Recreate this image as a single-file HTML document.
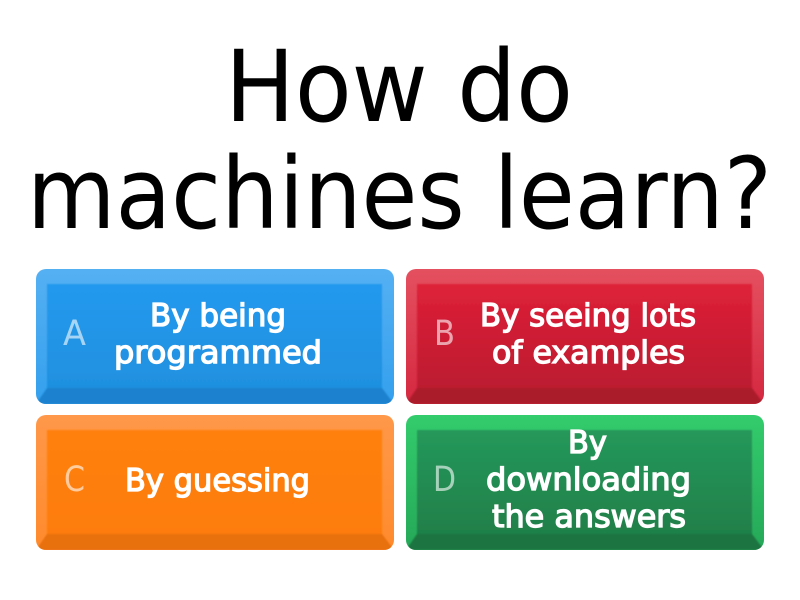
<!DOCTYPE html>
<html><head><meta charset="utf-8"><style>
html,body{margin:0;padding:0;background:#fff;width:800px;height:600px;overflow:hidden}
svg{display:block}
text{font-family:"DejaVu Sans",sans-serif}
.t{font-size:99px;fill:#000}
.b{font-size:31px;fill:#fff;stroke:#fff;stroke-width:1.3px}
.l{font-size:35px;fill:#fff;fill-opacity:.6}
</style></head><body>
<svg width="800" height="600" viewBox="0 0 800 600" xmlns="http://www.w3.org/2000/svg">
<defs>
<filter id="bl" x="-5%" y="-5%" width="110%" height="110%"><feGaussianBlur stdDeviation="0.7"/></filter>
<linearGradient id="gb" x1="0" y1="0" x2="0" y2="1"><stop offset="0" stop-color="#2299ee"/><stop offset="1" stop-color="#1f90df"/></linearGradient>
<linearGradient id="gr" x1="0" y1="0" x2="0" y2="1"><stop offset="0" stop-color="#de2038"/><stop offset="1" stop-color="#bc1c2f"/></linearGradient>
<linearGradient id="go" x1="0" y1="0" x2="0" y2="1"><stop offset="0" stop-color="#ff800e"/><stop offset="1" stop-color="#fd7c0c"/></linearGradient>
<linearGradient id="gg" x1="0" y1="0" x2="0" y2="1"><stop offset="0" stop-color="#25985a"/><stop offset="1" stop-color="#1f7f49"/></linearGradient>
<linearGradient id="ob" x1="0" y1="0" x2="0" y2="1"><stop offset="0" stop-color="#55b0f2"/><stop offset="1" stop-color="#34a0ee"/></linearGradient>
<linearGradient id="or" x1="0" y1="0" x2="0" y2="1"><stop offset="0" stop-color="#e4505f"/><stop offset="1" stop-color="#d52840"/></linearGradient>
<linearGradient id="oo" x1="0" y1="0" x2="0" y2="1"><stop offset="0" stop-color="#ff984a"/><stop offset="1" stop-color="#ff8a2c"/></linearGradient>
<linearGradient id="og" x1="0" y1="0" x2="0" y2="1"><stop offset="0" stop-color="#33cc6c"/><stop offset="1" stop-color="#25a858"/></linearGradient>
<clipPath id="c1"><rect x="36" y="269" width="358" height="135" rx="10"/></clipPath>
<clipPath id="c2"><rect x="406" y="269" width="358" height="135" rx="10"/></clipPath>
<clipPath id="c3"><rect x="36" y="415" width="358" height="135" rx="10"/></clipPath>
<clipPath id="c4"><rect x="406" y="415" width="358" height="135" rx="10"/></clipPath>
</defs>

<text class="t" x="225" y="121" textLength="348" lengthAdjust="spacingAndGlyphs">How do</text>
<text class="t" x="27" y="228" textLength="745" lengthAdjust="spacingAndGlyphs">machines learn?</text>

<g clip-path="url(#c1)">
<rect x="36" y="269" width="358" height="135" fill="url(#ob)"/>
<g filter="url(#bl)">
<polygon points="36,404 47,388 382,388 394,404" fill="#1a82cf"/>
<rect x="47" y="284" width="335" height="104" fill="url(#gb)"/>
</g>
</g>
<g clip-path="url(#c2)">
<rect x="406" y="269" width="358" height="135" fill="url(#or)"/>
<g filter="url(#bl)">
<polygon points="406,404 417,388 752,388 764,404" fill="#ab1a2b"/>
<rect x="417" y="284" width="335" height="104" fill="url(#gr)"/>
</g>
</g>
<g clip-path="url(#c3)">
<rect x="36" y="415" width="358" height="135" fill="url(#oo)"/>
<g filter="url(#bl)">
<polygon points="36,550 47,534 382,534 394,550" fill="#e8700a"/>
<rect x="47" y="430" width="335" height="104" fill="url(#go)"/>
</g>
</g>
<g clip-path="url(#c4)">
<rect x="406" y="415" width="358" height="135" fill="url(#og)"/>
<g filter="url(#bl)">
<polygon points="406,550 417,534 752,534 764,550" fill="#1b7440"/>
<rect x="417" y="430" width="335" height="104" fill="url(#gg)"/>
</g>
</g>

<text class="l" x="63" y="345" textLength="23" lengthAdjust="spacingAndGlyphs">A</text>
<text class="l" x="434" y="345" textLength="21" lengthAdjust="spacingAndGlyphs">B</text>
<text class="l" x="64" y="491" textLength="21" lengthAdjust="spacingAndGlyphs">C</text>
<text class="l" x="433" y="491" textLength="23" lengthAdjust="spacingAndGlyphs">D</text>

<text class="b" x="150" y="326" textLength="136" lengthAdjust="spacingAndGlyphs">By being</text>
<text class="b" x="114" y="363" textLength="208" lengthAdjust="spacingAndGlyphs">programmed</text>
<text class="b" x="480" y="326" textLength="216" lengthAdjust="spacingAndGlyphs">By seeing lots</text>
<text class="b" x="492" y="363" textLength="193" lengthAdjust="spacingAndGlyphs">of examples</text>
<text class="b" x="125" y="491" textLength="185" lengthAdjust="spacingAndGlyphs">By guessing</text>
<text class="b" x="568" y="453" textLength="39" lengthAdjust="spacingAndGlyphs">By</text>
<text class="b" x="486" y="490" textLength="205" lengthAdjust="spacingAndGlyphs">downloading</text>
<text class="b" x="492" y="527" textLength="194" lengthAdjust="spacingAndGlyphs">the answers</text>
</svg>
</body></html>
